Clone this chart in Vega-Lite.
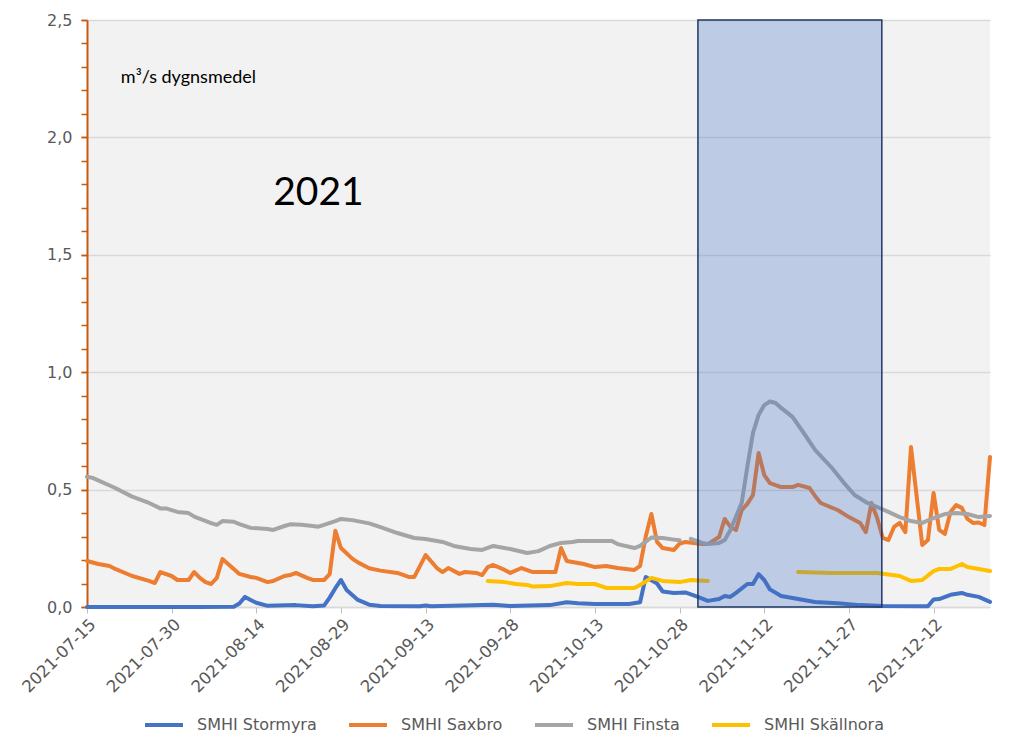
{
  "$schema": "https://vega.github.io/schema/vega-lite/v6.json",
  "width": 903,
  "height": 587,
  "autosize": "none",
  "padding": {"left": 87, "top": 20, "right": 34, "bottom": 147},
  "background": "white",
  "config": {
    "view": {"fill": "#F2F2F2", "stroke": null},
    "font": "DejaVu Sans"
  },
  "resolve": {"axis": {"y": "independent"}},
  "datasets": {
    "flow": [
      {"d": "2021-07-15 00:00", "s": "SMHI Stormyra", "v": 0},
      {"d": "2021-07-25 00:00", "s": "SMHI Stormyra", "v": 0},
      {"d": "2021-08-04 00:00", "s": "SMHI Stormyra", "v": 0},
      {"d": "2021-08-10 00:00", "s": "SMHI Stormyra", "v": 0.001},
      {"d": "2021-08-11 00:00", "s": "SMHI Stormyra", "v": 0.015},
      {"d": "2021-08-12 00:00", "s": "SMHI Stormyra", "v": 0.043},
      {"d": "2021-08-13 00:00", "s": "SMHI Stormyra", "v": 0.03},
      {"d": "2021-08-14 00:00", "s": "SMHI Stormyra", "v": 0.018},
      {"d": "2021-08-16 00:00", "s": "SMHI Stormyra", "v": 0.005},
      {"d": "2021-08-21 00:00", "s": "SMHI Stormyra", "v": 0.008},
      {"d": "2021-08-24 00:00", "s": "SMHI Stormyra", "v": 0.003},
      {"d": "2021-08-26 00:00", "s": "SMHI Stormyra", "v": 0.006},
      {"d": "2021-08-27 00:00", "s": "SMHI Stormyra", "v": 0.04},
      {"d": "2021-08-28 00:00", "s": "SMHI Stormyra", "v": 0.08},
      {"d": "2021-08-29 00:00", "s": "SMHI Stormyra", "v": 0.115},
      {"d": "2021-08-30 00:00", "s": "SMHI Stormyra", "v": 0.072},
      {"d": "2021-09-01 00:00", "s": "SMHI Stormyra", "v": 0.03},
      {"d": "2021-09-03 00:00", "s": "SMHI Stormyra", "v": 0.01},
      {"d": "2021-09-05 00:00", "s": "SMHI Stormyra", "v": 0.004},
      {"d": "2021-09-12 00:00", "s": "SMHI Stormyra", "v": 0.003},
      {"d": "2021-09-13 00:00", "s": "SMHI Stormyra", "v": 0.006},
      {"d": "2021-09-14 00:00", "s": "SMHI Stormyra", "v": 0.003},
      {"d": "2021-09-25 00:00", "s": "SMHI Stormyra", "v": 0.01},
      {"d": "2021-09-28 00:00", "s": "SMHI Stormyra", "v": 0.004},
      {"d": "2021-10-05 00:00", "s": "SMHI Stormyra", "v": 0.008},
      {"d": "2021-10-08 00:00", "s": "SMHI Stormyra", "v": 0.02},
      {"d": "2021-10-10 00:00", "s": "SMHI Stormyra", "v": 0.016},
      {"d": "2021-10-13 00:00", "s": "SMHI Stormyra", "v": 0.013},
      {"d": "2021-10-19 00:00", "s": "SMHI Stormyra", "v": 0.013},
      {"d": "2021-10-21 00:00", "s": "SMHI Stormyra", "v": 0.02},
      {"d": "2021-10-22 00:00", "s": "SMHI Stormyra", "v": 0.128},
      {"d": "2021-10-24 00:00", "s": "SMHI Stormyra", "v": 0.1},
      {"d": "2021-10-25 00:00", "s": "SMHI Stormyra", "v": 0.066},
      {"d": "2021-10-27 00:00", "s": "SMHI Stormyra", "v": 0.06},
      {"d": "2021-10-29 00:00", "s": "SMHI Stormyra", "v": 0.062},
      {"d": "2021-10-31 00:00", "s": "SMHI Stormyra", "v": 0.045},
      {"d": "2021-11-02 00:00", "s": "SMHI Stormyra", "v": 0.026},
      {"d": "2021-11-04 00:00", "s": "SMHI Stormyra", "v": 0.034},
      {"d": "2021-11-05 00:00", "s": "SMHI Stormyra", "v": 0.047},
      {"d": "2021-11-06 00:00", "s": "SMHI Stormyra", "v": 0.043},
      {"d": "2021-11-07 00:00", "s": "SMHI Stormyra", "v": 0.06},
      {"d": "2021-11-09 00:00", "s": "SMHI Stormyra", "v": 0.098},
      {"d": "2021-11-10 00:00", "s": "SMHI Stormyra", "v": 0.098},
      {"d": "2021-11-11 00:00", "s": "SMHI Stormyra", "v": 0.14},
      {"d": "2021-11-12 00:00", "s": "SMHI Stormyra", "v": 0.115},
      {"d": "2021-11-13 00:00", "s": "SMHI Stormyra", "v": 0.075},
      {"d": "2021-11-15 00:00", "s": "SMHI Stormyra", "v": 0.047},
      {"d": "2021-11-18 00:00", "s": "SMHI Stormyra", "v": 0.034},
      {"d": "2021-11-21 00:00", "s": "SMHI Stormyra", "v": 0.021},
      {"d": "2021-11-25 00:00", "s": "SMHI Stormyra", "v": 0.016},
      {"d": "2021-11-29 00:00", "s": "SMHI Stormyra", "v": 0.008},
      {"d": "2021-12-03 00:00", "s": "SMHI Stormyra", "v": 0.004},
      {"d": "2021-12-11 00:00", "s": "SMHI Stormyra", "v": 0.003},
      {"d": "2021-12-12 00:00", "s": "SMHI Stormyra", "v": 0.032},
      {"d": "2021-12-13 00:00", "s": "SMHI Stormyra", "v": 0.034},
      {"d": "2021-12-15 00:00", "s": "SMHI Stormyra", "v": 0.052},
      {"d": "2021-12-17 00:00", "s": "SMHI Stormyra", "v": 0.06},
      {"d": "2021-12-18 00:00", "s": "SMHI Stormyra", "v": 0.052},
      {"d": "2021-12-20 00:00", "s": "SMHI Stormyra", "v": 0.043},
      {"d": "2021-12-22 00:00", "s": "SMHI Stormyra", "v": 0.022},

      {"d": "2021-07-15 00:00", "s": "SMHI Saxbro", "v": 0.196},
      {"d": "2021-07-17 00:00", "s": "SMHI Saxbro", "v": 0.183},
      {"d": "2021-07-19 00:00", "s": "SMHI Saxbro", "v": 0.175},
      {"d": "2021-07-20 00:00", "s": "SMHI Saxbro", "v": 0.162},
      {"d": "2021-07-23 00:00", "s": "SMHI Saxbro", "v": 0.132},
      {"d": "2021-07-26 00:00", "s": "SMHI Saxbro", "v": 0.111},
      {"d": "2021-07-27 00:00", "s": "SMHI Saxbro", "v": 0.102},
      {"d": "2021-07-28 00:00", "s": "SMHI Saxbro", "v": 0.149},
      {"d": "2021-07-30 00:00", "s": "SMHI Saxbro", "v": 0.132},
      {"d": "2021-07-31 00:00", "s": "SMHI Saxbro", "v": 0.115},
      {"d": "2021-08-02 00:00", "s": "SMHI Saxbro", "v": 0.115},
      {"d": "2021-08-03 00:00", "s": "SMHI Saxbro", "v": 0.149},
      {"d": "2021-08-04 00:00", "s": "SMHI Saxbro", "v": 0.124},
      {"d": "2021-08-05 00:00", "s": "SMHI Saxbro", "v": 0.106},
      {"d": "2021-08-06 00:00", "s": "SMHI Saxbro", "v": 0.098},
      {"d": "2021-08-07 00:00", "s": "SMHI Saxbro", "v": 0.124},
      {"d": "2021-08-08 00:00", "s": "SMHI Saxbro", "v": 0.204},
      {"d": "2021-08-10 00:00", "s": "SMHI Saxbro", "v": 0.162},
      {"d": "2021-08-11 00:00", "s": "SMHI Saxbro", "v": 0.141},
      {"d": "2021-08-13 00:00", "s": "SMHI Saxbro", "v": 0.128},
      {"d": "2021-08-14 00:00", "s": "SMHI Saxbro", "v": 0.124},
      {"d": "2021-08-16 00:00", "s": "SMHI Saxbro", "v": 0.106},
      {"d": "2021-08-17 00:00", "s": "SMHI Saxbro", "v": 0.111},
      {"d": "2021-08-19 00:00", "s": "SMHI Saxbro", "v": 0.132},
      {"d": "2021-08-20 00:00", "s": "SMHI Saxbro", "v": 0.136},
      {"d": "2021-08-21 00:00", "s": "SMHI Saxbro", "v": 0.145},
      {"d": "2021-08-23 00:00", "s": "SMHI Saxbro", "v": 0.124},
      {"d": "2021-08-24 00:00", "s": "SMHI Saxbro", "v": 0.115},
      {"d": "2021-08-26 00:00", "s": "SMHI Saxbro", "v": 0.115},
      {"d": "2021-08-27 00:00", "s": "SMHI Saxbro", "v": 0.14},
      {"d": "2021-08-28 00:00", "s": "SMHI Saxbro", "v": 0.325},
      {"d": "2021-08-29 00:00", "s": "SMHI Saxbro", "v": 0.251},
      {"d": "2021-08-31 00:00", "s": "SMHI Saxbro", "v": 0.206},
      {"d": "2021-09-01 00:00", "s": "SMHI Saxbro", "v": 0.19},
      {"d": "2021-09-03 00:00", "s": "SMHI Saxbro", "v": 0.165},
      {"d": "2021-09-05 00:00", "s": "SMHI Saxbro", "v": 0.155},
      {"d": "2021-09-08 00:00", "s": "SMHI Saxbro", "v": 0.145},
      {"d": "2021-09-10 00:00", "s": "SMHI Saxbro", "v": 0.128},
      {"d": "2021-09-11 00:00", "s": "SMHI Saxbro", "v": 0.128},
      {"d": "2021-09-13 00:00", "s": "SMHI Saxbro", "v": 0.221},
      {"d": "2021-09-15 00:00", "s": "SMHI Saxbro", "v": 0.166},
      {"d": "2021-09-16 00:00", "s": "SMHI Saxbro", "v": 0.149},
      {"d": "2021-09-17 00:00", "s": "SMHI Saxbro", "v": 0.166},
      {"d": "2021-09-19 00:00", "s": "SMHI Saxbro", "v": 0.141},
      {"d": "2021-09-20 00:00", "s": "SMHI Saxbro", "v": 0.149},
      {"d": "2021-09-22 00:00", "s": "SMHI Saxbro", "v": 0.145},
      {"d": "2021-09-23 00:00", "s": "SMHI Saxbro", "v": 0.136},
      {"d": "2021-09-24 00:00", "s": "SMHI Saxbro", "v": 0.17},
      {"d": "2021-09-25 00:00", "s": "SMHI Saxbro", "v": 0.179},
      {"d": "2021-09-27 00:00", "s": "SMHI Saxbro", "v": 0.158},
      {"d": "2021-09-28 00:00", "s": "SMHI Saxbro", "v": 0.145},
      {"d": "2021-09-30 00:00", "s": "SMHI Saxbro", "v": 0.166},
      {"d": "2021-10-02 00:00", "s": "SMHI Saxbro", "v": 0.149},
      {"d": "2021-10-05 00:00", "s": "SMHI Saxbro", "v": 0.149},
      {"d": "2021-10-06 00:00", "s": "SMHI Saxbro", "v": 0.149},
      {"d": "2021-10-07 00:00", "s": "SMHI Saxbro", "v": 0.251},
      {"d": "2021-10-08 00:00", "s": "SMHI Saxbro", "v": 0.196},
      {"d": "2021-10-11 00:00", "s": "SMHI Saxbro", "v": 0.183},
      {"d": "2021-10-13 00:00", "s": "SMHI Saxbro", "v": 0.17},
      {"d": "2021-10-15 00:00", "s": "SMHI Saxbro", "v": 0.175},
      {"d": "2021-10-17 00:00", "s": "SMHI Saxbro", "v": 0.166},
      {"d": "2021-10-20 00:00", "s": "SMHI Saxbro", "v": 0.158},
      {"d": "2021-10-21 00:00", "s": "SMHI Saxbro", "v": 0.175},
      {"d": "2021-10-22 00:00", "s": "SMHI Saxbro", "v": 0.3},
      {"d": "2021-10-23 00:00", "s": "SMHI Saxbro", "v": 0.396},
      {"d": "2021-10-24 00:00", "s": "SMHI Saxbro", "v": 0.277},
      {"d": "2021-10-25 00:00", "s": "SMHI Saxbro", "v": 0.251},
      {"d": "2021-10-27 00:00", "s": "SMHI Saxbro", "v": 0.243},
      {"d": "2021-10-28 00:00", "s": "SMHI Saxbro", "v": 0.27},
      {"d": "2021-10-29 00:00", "s": "SMHI Saxbro", "v": 0.277},
      {"d": "2021-11-01 00:00", "s": "SMHI Saxbro", "v": 0.268},
      {"d": "2021-11-02 00:00", "s": "SMHI Saxbro", "v": 0.268},
      {"d": "2021-11-04 00:00", "s": "SMHI Saxbro", "v": 0.298},
      {"d": "2021-11-05 00:00", "s": "SMHI Saxbro", "v": 0.375},
      {"d": "2021-11-06 00:00", "s": "SMHI Saxbro", "v": 0.341},
      {"d": "2021-11-07 00:00", "s": "SMHI Saxbro", "v": 0.328},
      {"d": "2021-11-08 00:00", "s": "SMHI Saxbro", "v": 0.413},
      {"d": "2021-11-09 00:00", "s": "SMHI Saxbro", "v": 0.439},
      {"d": "2021-11-10 00:00", "s": "SMHI Saxbro", "v": 0.477},
      {"d": "2021-11-11 00:00", "s": "SMHI Saxbro", "v": 0.656},
      {"d": "2021-11-12 00:00", "s": "SMHI Saxbro", "v": 0.562},
      {"d": "2021-11-13 00:00", "s": "SMHI Saxbro", "v": 0.528},
      {"d": "2021-11-15 00:00", "s": "SMHI Saxbro", "v": 0.511},
      {"d": "2021-11-17 00:00", "s": "SMHI Saxbro", "v": 0.511},
      {"d": "2021-11-18 00:00", "s": "SMHI Saxbro", "v": 0.52},
      {"d": "2021-11-20 00:00", "s": "SMHI Saxbro", "v": 0.507},
      {"d": "2021-11-21 00:00", "s": "SMHI Saxbro", "v": 0.473},
      {"d": "2021-11-22 00:00", "s": "SMHI Saxbro", "v": 0.443},
      {"d": "2021-11-25 00:00", "s": "SMHI Saxbro", "v": 0.413},
      {"d": "2021-11-27 00:00", "s": "SMHI Saxbro", "v": 0.383},
      {"d": "2021-11-29 00:00", "s": "SMHI Saxbro", "v": 0.358},
      {"d": "2021-11-30 00:00", "s": "SMHI Saxbro", "v": 0.319},
      {"d": "2021-12-01 00:00", "s": "SMHI Saxbro", "v": 0.443},
      {"d": "2021-12-02 00:00", "s": "SMHI Saxbro", "v": 0.379},
      {"d": "2021-12-03 00:00", "s": "SMHI Saxbro", "v": 0.294},
      {"d": "2021-12-04 00:00", "s": "SMHI Saxbro", "v": 0.285},
      {"d": "2021-12-05 00:00", "s": "SMHI Saxbro", "v": 0.341},
      {"d": "2021-12-06 00:00", "s": "SMHI Saxbro", "v": 0.358},
      {"d": "2021-12-07 00:00", "s": "SMHI Saxbro", "v": 0.319},
      {"d": "2021-12-08 00:00", "s": "SMHI Saxbro", "v": 0.681},
      {"d": "2021-12-10 00:00", "s": "SMHI Saxbro", "v": 0.264},
      {"d": "2021-12-11 00:00", "s": "SMHI Saxbro", "v": 0.285},
      {"d": "2021-12-12 00:00", "s": "SMHI Saxbro", "v": 0.486},
      {"d": "2021-12-13 00:00", "s": "SMHI Saxbro", "v": 0.328},
      {"d": "2021-12-14 00:00", "s": "SMHI Saxbro", "v": 0.311},
      {"d": "2021-12-15 00:00", "s": "SMHI Saxbro", "v": 0.405},
      {"d": "2021-12-16 00:00", "s": "SMHI Saxbro", "v": 0.434},
      {"d": "2021-12-17 00:00", "s": "SMHI Saxbro", "v": 0.422},
      {"d": "2021-12-18 00:00", "s": "SMHI Saxbro", "v": 0.375},
      {"d": "2021-12-19 00:00", "s": "SMHI Saxbro", "v": 0.358},
      {"d": "2021-12-20 00:00", "s": "SMHI Saxbro", "v": 0.36},
      {"d": "2021-12-21 00:00", "s": "SMHI Saxbro", "v": 0.349},
      {"d": "2021-12-22 00:00", "s": "SMHI Saxbro", "v": 0.639},

      {"d": "2021-07-15 00:00", "s": "SMHI Finsta", "v": 0.555},
      {"d": "2021-07-16 00:00", "s": "SMHI Finsta", "v": 0.55},
      {"d": "2021-07-20 00:00", "s": "SMHI Finsta", "v": 0.507},
      {"d": "2021-07-23 00:00", "s": "SMHI Finsta", "v": 0.47},
      {"d": "2021-07-26 00:00", "s": "SMHI Finsta", "v": 0.443},
      {"d": "2021-07-28 00:00", "s": "SMHI Finsta", "v": 0.42},
      {"d": "2021-07-29 00:00", "s": "SMHI Finsta", "v": 0.42},
      {"d": "2021-07-31 00:00", "s": "SMHI Finsta", "v": 0.405},
      {"d": "2021-08-02 00:00", "s": "SMHI Finsta", "v": 0.4},
      {"d": "2021-08-03 00:00", "s": "SMHI Finsta", "v": 0.385},
      {"d": "2021-08-06 00:00", "s": "SMHI Finsta", "v": 0.357},
      {"d": "2021-08-07 00:00", "s": "SMHI Finsta", "v": 0.35},
      {"d": "2021-08-08 00:00", "s": "SMHI Finsta", "v": 0.366},
      {"d": "2021-08-10 00:00", "s": "SMHI Finsta", "v": 0.363},
      {"d": "2021-08-11 00:00", "s": "SMHI Finsta", "v": 0.353},
      {"d": "2021-08-13 00:00", "s": "SMHI Finsta", "v": 0.337},
      {"d": "2021-08-16 00:00", "s": "SMHI Finsta", "v": 0.332},
      {"d": "2021-08-17 00:00", "s": "SMHI Finsta", "v": 0.328},
      {"d": "2021-08-19 00:00", "s": "SMHI Finsta", "v": 0.345},
      {"d": "2021-08-20 00:00", "s": "SMHI Finsta", "v": 0.352},
      {"d": "2021-08-22 00:00", "s": "SMHI Finsta", "v": 0.35},
      {"d": "2021-08-24 00:00", "s": "SMHI Finsta", "v": 0.345},
      {"d": "2021-08-25 00:00", "s": "SMHI Finsta", "v": 0.342},
      {"d": "2021-08-26 00:00", "s": "SMHI Finsta", "v": 0.35},
      {"d": "2021-08-28 00:00", "s": "SMHI Finsta", "v": 0.366},
      {"d": "2021-08-29 00:00", "s": "SMHI Finsta", "v": 0.375},
      {"d": "2021-08-31 00:00", "s": "SMHI Finsta", "v": 0.37},
      {"d": "2021-09-03 00:00", "s": "SMHI Finsta", "v": 0.356},
      {"d": "2021-09-05 00:00", "s": "SMHI Finsta", "v": 0.34},
      {"d": "2021-09-08 00:00", "s": "SMHI Finsta", "v": 0.315},
      {"d": "2021-09-11 00:00", "s": "SMHI Finsta", "v": 0.294},
      {"d": "2021-09-13 00:00", "s": "SMHI Finsta", "v": 0.29},
      {"d": "2021-09-16 00:00", "s": "SMHI Finsta", "v": 0.277},
      {"d": "2021-09-18 00:00", "s": "SMHI Finsta", "v": 0.26},
      {"d": "2021-09-21 00:00", "s": "SMHI Finsta", "v": 0.247},
      {"d": "2021-09-23 00:00", "s": "SMHI Finsta", "v": 0.243},
      {"d": "2021-09-25 00:00", "s": "SMHI Finsta", "v": 0.26},
      {"d": "2021-09-28 00:00", "s": "SMHI Finsta", "v": 0.247},
      {"d": "2021-10-01 00:00", "s": "SMHI Finsta", "v": 0.23},
      {"d": "2021-10-03 00:00", "s": "SMHI Finsta", "v": 0.238},
      {"d": "2021-10-05 00:00", "s": "SMHI Finsta", "v": 0.26},
      {"d": "2021-10-07 00:00", "s": "SMHI Finsta", "v": 0.273},
      {"d": "2021-10-09 00:00", "s": "SMHI Finsta", "v": 0.277},
      {"d": "2021-10-10 00:00", "s": "SMHI Finsta", "v": 0.281},
      {"d": "2021-10-13 00:00", "s": "SMHI Finsta", "v": 0.281},
      {"d": "2021-10-16 00:00", "s": "SMHI Finsta", "v": 0.281},
      {"d": "2021-10-17 00:00", "s": "SMHI Finsta", "v": 0.268},
      {"d": "2021-10-20 00:00", "s": "SMHI Finsta", "v": 0.251},
      {"d": "2021-10-21 00:00", "s": "SMHI Finsta", "v": 0.26},
      {"d": "2021-10-23 00:00", "s": "SMHI Finsta", "v": 0.296},
      {"d": "2021-10-25 00:00", "s": "SMHI Finsta", "v": 0.294},
      {"d": "2021-10-27 00:00", "s": "SMHI Finsta", "v": 0.287},
      {"d": "2021-10-28 00:00", "s": "SMHI Finsta", "v": 0.284},
      {"d": "2021-10-29 00:00", "s": "SMHI Finsta", "v": null},
      {"d": "2021-10-30 00:00", "s": "SMHI Finsta", "v": 0.29},
      {"d": "2021-11-01 00:00", "s": "SMHI Finsta", "v": 0.273},
      {"d": "2021-11-02 00:00", "s": "SMHI Finsta", "v": 0.268},
      {"d": "2021-11-04 00:00", "s": "SMHI Finsta", "v": 0.273},
      {"d": "2021-11-05 00:00", "s": "SMHI Finsta", "v": 0.285},
      {"d": "2021-11-06 00:00", "s": "SMHI Finsta", "v": 0.328},
      {"d": "2021-11-08 00:00", "s": "SMHI Finsta", "v": 0.443},
      {"d": "2021-11-09 00:00", "s": "SMHI Finsta", "v": 0.597},
      {"d": "2021-11-10 00:00", "s": "SMHI Finsta", "v": 0.741},
      {"d": "2021-11-11 00:00", "s": "SMHI Finsta", "v": 0.818},
      {"d": "2021-11-12 00:00", "s": "SMHI Finsta", "v": 0.86},
      {"d": "2021-11-13 00:00", "s": "SMHI Finsta", "v": 0.875},
      {"d": "2021-11-14 00:00", "s": "SMHI Finsta", "v": 0.869},
      {"d": "2021-11-15 00:00", "s": "SMHI Finsta", "v": 0.848},
      {"d": "2021-11-17 00:00", "s": "SMHI Finsta", "v": 0.81},
      {"d": "2021-11-19 00:00", "s": "SMHI Finsta", "v": 0.741},
      {"d": "2021-11-21 00:00", "s": "SMHI Finsta", "v": 0.669},
      {"d": "2021-11-24 00:00", "s": "SMHI Finsta", "v": 0.592},
      {"d": "2021-11-26 00:00", "s": "SMHI Finsta", "v": 0.532},
      {"d": "2021-11-28 00:00", "s": "SMHI Finsta", "v": 0.477},
      {"d": "2021-11-30 00:00", "s": "SMHI Finsta", "v": 0.447},
      {"d": "2021-12-02 00:00", "s": "SMHI Finsta", "v": 0.426},
      {"d": "2021-12-04 00:00", "s": "SMHI Finsta", "v": 0.405},
      {"d": "2021-12-06 00:00", "s": "SMHI Finsta", "v": 0.383},
      {"d": "2021-12-08 00:00", "s": "SMHI Finsta", "v": 0.366},
      {"d": "2021-12-10 00:00", "s": "SMHI Finsta", "v": 0.358},
      {"d": "2021-12-12 00:00", "s": "SMHI Finsta", "v": 0.379},
      {"d": "2021-12-14 00:00", "s": "SMHI Finsta", "v": 0.396},
      {"d": "2021-12-16 00:00", "s": "SMHI Finsta", "v": 0.4},
      {"d": "2021-12-18 00:00", "s": "SMHI Finsta", "v": 0.396},
      {"d": "2021-12-20 00:00", "s": "SMHI Finsta", "v": 0.383},
      {"d": "2021-12-22 00:00", "s": "SMHI Finsta", "v": 0.388},

      {"d": "2021-09-24 00:00", "s": "SMHI Skällnora", "v": 0.111},
      {"d": "2021-09-27 00:00", "s": "SMHI Skällnora", "v": 0.106},
      {"d": "2021-09-29 00:00", "s": "SMHI Skällnora", "v": 0.098},
      {"d": "2021-10-01 00:00", "s": "SMHI Skällnora", "v": 0.094},
      {"d": "2021-10-02 00:00", "s": "SMHI Skällnora", "v": 0.087},
      {"d": "2021-10-05 00:00", "s": "SMHI Skällnora", "v": 0.089},
      {"d": "2021-10-08 00:00", "s": "SMHI Skällnora", "v": 0.102},
      {"d": "2021-10-10 00:00", "s": "SMHI Skällnora", "v": 0.098},
      {"d": "2021-10-13 00:00", "s": "SMHI Skällnora", "v": 0.098},
      {"d": "2021-10-15 00:00", "s": "SMHI Skällnora", "v": 0.081},
      {"d": "2021-10-20 00:00", "s": "SMHI Skällnora", "v": 0.081},
      {"d": "2021-10-21 00:00", "s": "SMHI Skällnora", "v": 0.094},
      {"d": "2021-10-23 00:00", "s": "SMHI Skällnora", "v": 0.124},
      {"d": "2021-10-25 00:00", "s": "SMHI Skällnora", "v": 0.111},
      {"d": "2021-10-28 00:00", "s": "SMHI Skällnora", "v": 0.106},
      {"d": "2021-10-30 00:00", "s": "SMHI Skällnora", "v": 0.115},
      {"d": "2021-11-02 00:00", "s": "SMHI Skällnora", "v": 0.111},
      {"d": "2021-11-03 00:00", "s": "SMHI Skällnora", "v": null},
      {"d": "2021-11-18 00:00", "s": "SMHI Skällnora", "v": 0.149},
      {"d": "2021-11-24 00:00", "s": "SMHI Skällnora", "v": 0.145},
      {"d": "2021-12-02 00:00", "s": "SMHI Skällnora", "v": 0.145},
      {"d": "2021-12-06 00:00", "s": "SMHI Skällnora", "v": 0.132},
      {"d": "2021-12-08 00:00", "s": "SMHI Skällnora", "v": 0.111},
      {"d": "2021-12-10 00:00", "s": "SMHI Skällnora", "v": 0.115},
      {"d": "2021-12-12 00:00", "s": "SMHI Skällnora", "v": 0.153},
      {"d": "2021-12-13 00:00", "s": "SMHI Skällnora", "v": 0.162},
      {"d": "2021-12-15 00:00", "s": "SMHI Skällnora", "v": 0.162},
      {"d": "2021-12-17 00:00", "s": "SMHI Skällnora", "v": 0.183},
      {"d": "2021-12-18 00:00", "s": "SMHI Skällnora", "v": 0.17},
      {"d": "2021-12-22 00:00", "s": "SMHI Skällnora", "v": 0.153}
    ],
    "period": [
      {"d": "2021-10-31 06:00", "d2": "2021-12-02 20:00", "v": 0, "v2": 2.5}
    ],
    "unit": [
      {"d": "2021-07-21 00:00", "v": 2.232, "t": "m³/s dygnsmedel"}
    ],
    "year": [
      {"d": "2021-08-17 00:00", "v": 1.712, "t": "2021"}
    ]
  },
  "encoding": {
    "x": {
      "field": "d", "type": "temporal", "title": null,
      "scale": {"type": "utc", "domain": [{"year": 2021, "month": 7, "date": 15, "utc": true}, {"year": 2021, "month": 12, "date": 22, "utc": true}]},
      "axis": {
        "values": [
          {"year": 2021, "month": 7, "date": 15, "utc": true},
          {"year": 2021, "month": 7, "date": 30, "utc": true},
          {"year": 2021, "month": 8, "date": 14, "utc": true},
          {"year": 2021, "month": 8, "date": 29, "utc": true},
          {"year": 2021, "month": 9, "date": 13, "utc": true},
          {"year": 2021, "month": 9, "date": 28, "utc": true},
          {"year": 2021, "month": 10, "date": 13, "utc": true},
          {"year": 2021, "month": 10, "date": 28, "utc": true},
          {"year": 2021, "month": 11, "date": 12, "utc": true},
          {"year": 2021, "month": 11, "date": 27, "utc": true},
          {"year": 2021, "month": 12, "date": 12, "utc": true}
        ],
        "labelExpr": "utcFormat(datum.value, '%Y-%m-%d')",
        "labelAngle": -45, "labelFontSize": 16.5, "labelColor": "#595959", "labelFont": "DejaVu Sans",
        "labelPadding": 3, "labelOverlap": false, "labelFlush": false, "labelBound": false,
        "grid": false, "tickColor": "#bfbfbf", "tickSize": 6, "tickWidth": 1,
        "domainColor": "#d9d9d9", "domainWidth": 1.5
      }
    }
  },
  "layer": [
    {
      "data": {"name": "flow", "format": {"parse": {"d": "utc:'%Y-%m-%d %H:%M'"}}},
      "mark": {"type": "line", "strokeWidth": 4, "strokeCap": "round", "strokeJoin": "round", "invalid": "break-paths-show-domains"},
      "encoding": {
        "y": {
          "field": "v", "type": "quantitative", "title": null,
          "scale": {"domain": [0, 2.5], "nice": false},
          "axis": {
            "values": [0, 0.5, 1, 1.5, 2, 2.5],
            "labelExpr": "replace(format(datum.value, '.1f'), '.', ',')",
            "labelFontSize": 16, "labelColor": "#595959", "labelFont": "DejaVu Sans",
            "labelPadding": 9, "labelOverlap": false, "labelFlush": false, "labelBound": false,
            "grid": true, "gridColor": "#d9d9d9", "gridWidth": 1.5,
            "domainColor": "#C55A11", "domainWidth": 2,
            "tickColor": "#C55A11", "tickSize": 6, "tickWidth": 1.5
          }
        },
        "color": {
          "field": "s", "type": "nominal",
          "scale": {
            "domain": ["SMHI Stormyra", "SMHI Saxbro", "SMHI Finsta", "SMHI Skällnora"],
            "range": ["#4472C4", "#ED7D31", "#A5A5A5", "#FFC000"]
          },
          "legend": {
            "orient": "none", "legendX": 56, "legendY": 684, "direction": "horizontal",
            "title": null, "padding": 0,
            "symbolType": "stroke", "symbolSize": 1444, "symbolStrokeWidth": 4,
            "labelFontSize": 16, "labelColor": "#595959", "labelFont": "DejaVu Sans",
            "labelOffset": 12, "columnPadding": 24
          }
        }
      }
    },
    {
      "data": {"name": "period", "format": {"parse": {"d": "utc:'%Y-%m-%d %H:%M'", "d2": "utc:'%Y-%m-%d %H:%M'"}}},
      "mark": {"type": "rect", "fill": "#4472C4", "fillOpacity": 0.3, "stroke": "#1F3864", "strokeWidth": 1.5},
      "encoding": {
        "x2": {"field": "d2"},
        "y": {
          "field": "v", "type": "quantitative", "title": null,
          "scale": {"domain": [0, 2.5], "nice": false},
          "axis": {
            "orient": "left",
            "values": [0, 0.1, 0.2, 0.3, 0.4, 0.5, 0.6, 0.7, 0.8, 0.9, 1, 1.1, 1.2, 1.3, 1.4, 1.5, 1.6, 1.7, 1.8, 1.9, 2, 2.1, 2.2, 2.3, 2.4, 2.5],
            "labels": false, "grid": false, "domain": false, "title": null,
            "tickColor": "#C55A11", "tickSize": 6, "tickWidth": 1.5
          }
        },
        "y2": {"field": "v2"}
      }
    },
    {
      "data": {"name": "unit", "format": {"parse": {"d": "utc:'%Y-%m-%d %H:%M'"}}},
      "mark": {"type": "text", "align": "left", "baseline": "alphabetic", "font": "Lato", "fontSize": 18, "color": "#000000"},
      "encoding": {
        "y": {"field": "v", "type": "quantitative", "title": null, "scale": {"domain": [0, 2.5], "nice": false}, "axis": null},
        "text": {"field": "t"}
      }
    },
    {
      "data": {"name": "year", "format": {"parse": {"d": "utc:'%Y-%m-%d %H:%M'"}}},
      "mark": {"type": "text", "align": "left", "baseline": "alphabetic", "font": "Lato", "fontSize": 39, "color": "#000000"},
      "encoding": {
        "y": {"field": "v", "type": "quantitative", "title": null, "scale": {"domain": [0, 2.5], "nice": false}, "axis": null},
        "text": {"field": "t"}
      }
    }
  ]
}
